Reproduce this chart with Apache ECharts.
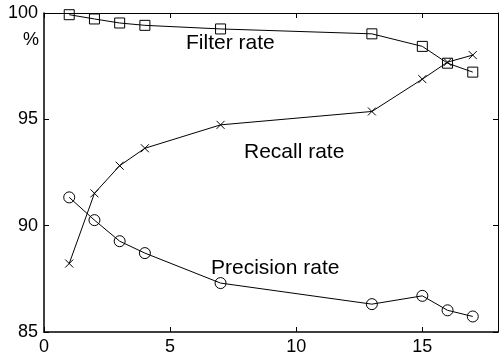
<!DOCTYPE html>
<html>
<head>
<meta charset="utf-8">
<script src="https://cdn.jsdelivr.net/npm/echarts@6/dist/echarts.min.js"></script>
<style>
html,body{margin:0;padding:0;background:#fff;}
#chart{width:501px;height:361px;}
</style>
</head>
<body>
<div id="chart"></div>
<script>
const xValues = [1, 2, 3, 4, 7, 13, 15, 16, 17];
const filterRate = [99.92, 99.72, 99.53, 99.42, 99.25, 99.02, 98.43, 97.64, 97.22];
const recallRate = [88.22, 91.52, 92.82, 93.64, 94.74, 95.37, 96.89, 97.69, 98.02];
const precisionRate = [91.33, 90.26, 89.27, 88.71, 87.30, 86.31, 86.70, 86.02, 85.73];
const seriesNames = ['Filter rate', 'Recall rate', 'Precision rate'];
const xTickLabels = [0, 5, 10, 15];
const yTickLabels = [85, 90, 95, 100];

const pair = arr => xValues.map((x, i) => [x, arr[i]]);
const FONT = '"Liberation Sans", Arial, sans-serif';
const crossPath = 'path://M0,0L10,10M10,0L0,10';

const chart = echarts.init(document.getElementById('chart'), null, {renderer: 'canvas'});

function xAxisCfg(pos, showLabel, lw) {
  return {
    type: 'value', position: pos, min: 0, max: 18, interval: 5,
    axisLine: {show: true, onZero: false, lineStyle: {color: '#000', width: lw}},
    axisTick: {show: true, inside: true, length: 5, lineStyle: {color: '#000', width: 1}},
    splitLine: {show: false},
    axisLabel: {
      show: showLabel, margin: 6, color: '#000', fontSize: 18, fontFamily: FONT,
      formatter: v => xTickLabels.includes(v) ? String(v) : ''
    }
  };
}
function yAxisCfg(pos, showLabel, lw) {
  return {
    type: 'value', position: pos, min: 85, max: 100, interval: 5,
    axisLine: {show: true, onZero: false, lineStyle: {color: '#000', width: lw}},
    axisTick: {show: true, inside: true, length: 5, lineStyle: {color: '#000', width: 1}},
    splitLine: {show: false},
    axisLabel: {
      show: showLabel, margin: 6, color: '#000', fontSize: 18, fontFamily: FONT,
      formatter: v => yTickLabels.includes(v) ? String(v) : ''
    }
  };
}

function mkSeries(name, arr, symbol, size) {
  return {
    name, type: 'line', data: pair(arr), xAxisIndex: 0, yAxisIndex: 0,
    symbol, symbolSize: size, showAllSymbol: true, clip: false,
    lineStyle: {color: '#000', width: 1},
    itemStyle: {color: 'rgba(0,0,0,0)', borderColor: '#000', borderWidth: 1},
    emphasis: {disabled: true}
  };
}

chart.setOption({
  animation: false,
  backgroundColor: '#fff',
  grid: {left: 44, top: 13, right: -2, bottom: 29, containLabel: false},
  xAxis: [xAxisCfg('bottom', true, 1.5), xAxisCfg('top', false, 1)],
  yAxis: [yAxisCfg('left', true, 1.5), yAxisCfg('right', false, 1)],
  series: [
    mkSeries(seriesNames[0], filterRate, 'rect', 10),
    mkSeries(seriesNames[1], recallRate, crossPath, 8),
    mkSeries(seriesNames[2], precisionRate, 'circle', 11)
  ],
  graphic: [
    {type: 'text', x: 23, y: 40, style: {text: '%', font: '18px ' + FONT, fill: '#000', verticalAlign: 'middle'}},
    {type: 'text', x: 186, y: 43, style: {text: seriesNames[0], font: '21px ' + FONT, fill: '#000', verticalAlign: 'middle'}},
    {type: 'text', x: 244, y: 152, style: {text: seriesNames[1], font: '21px ' + FONT, fill: '#000', verticalAlign: 'middle'}},
    {type: 'text', x: 211, y: 268, style: {text: seriesNames[2], font: '21px ' + FONT, fill: '#000', verticalAlign: 'middle'}}
  ]
});
</script>
</body>
</html>
